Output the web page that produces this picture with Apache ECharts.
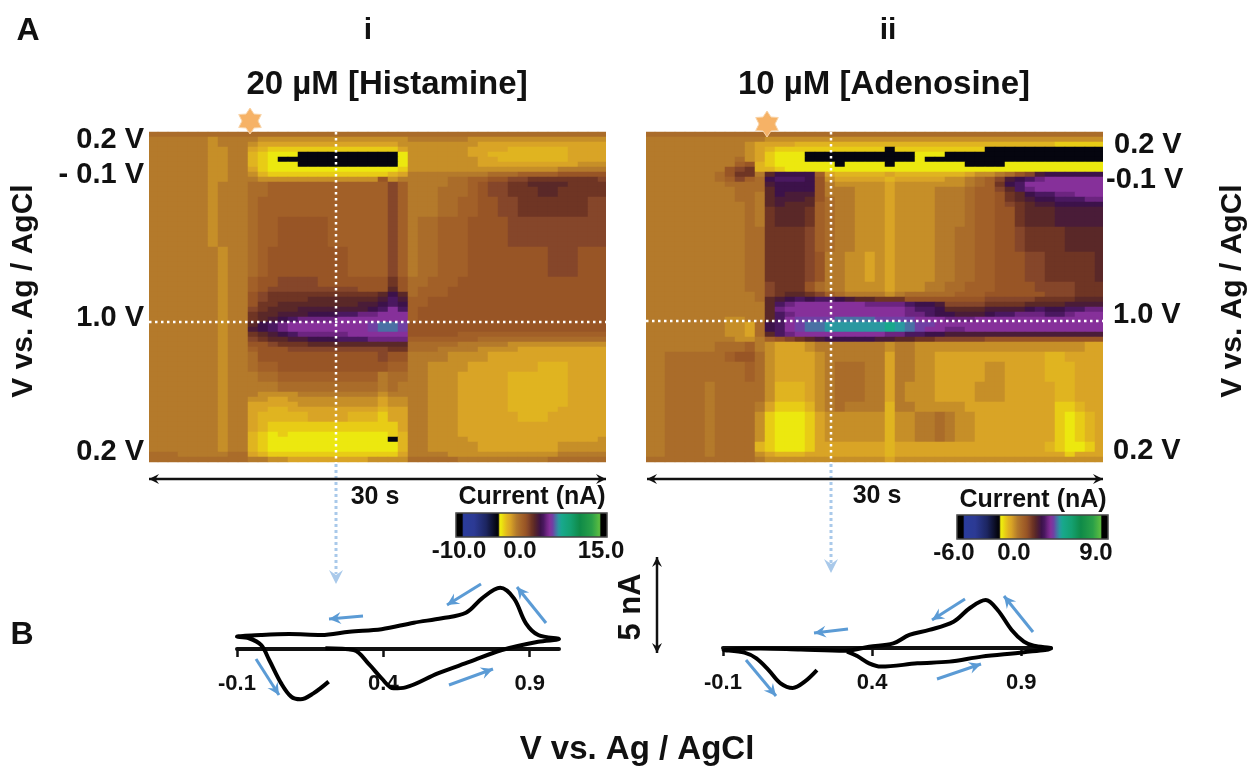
<!DOCTYPE html>
<html><head><meta charset="utf-8">
<style>html,body{margin:0;padding:0;background:#fff}#c{width:1249px;height:770px}</style>
<script src="https://cdn.jsdelivr.net/npm/echarts@6/dist/echarts.min.js"></script>
</head><body><div id="c"></div>
<script>
// Level codes; each code stands for one current value.
const levelCodes = "#yxwvutsrqponmlkjihgfed";
const levelsHistamine = [-3.25,-2.5,-2,-1.5,-1,-0.5,0,0.5,1,1.5,2,2.5,3,3.5,4,4.5,5,5.5,6,6.5,7,7.5,8];
const levelsAdenosine = [-1.95,-1.5,-1.2,-0.9,-0.6,-0.3,0,0.3,0.6,0.9,1.2,1.5,1.8,2.1,2.4,2.7,3,3.3,3.6,3.9,4.2,4.5,4.8];

// [row repeat, cell levels left to right], top row first (46 columns, 66 rows)
const rowsHistamine = [
[1,"ssssssssss ssssssssssssssss ssssssssssssssssssss"],
[1,"ttttttuttt tuuuuuuuuuuuuuuu ttttttuuuuuuuuuuuuuu"],
[1,"ttttttuttt uvvvvvvvvvvvvvvu uuuuuuuvvvvvvvvvvvvv"],
[1,"ttttttuutt vwxxxxxxxxxxxxxv uuuuuuvvvvwwwwwwvvvv"],
[1,"ttttttuutt wxyyy##########y uuuuuuvvwwwwwwwwvvvv"],
[1,"ttttttuutt wxy############y uuuuuuuvvwwwwwwwvvvv"],
[1,"ttttttuutt wxyyy##########y uuuuuuuvvvvvvvvvvuuu"],
[1,"ttttttuutt vxyyyyyyyyyyyyyx uuuuuuuuuuuuuuuttttt"],
[1,"ttttttuutt uwxxxxxxxxxxxxwv ttttttttsssrrrrqqqqq"],
[1,"ttttttuutt tuuuuuuuuuuuuqut ttttssrrqqppooooooop"],
[1,"ttttttuttt ssrrrrrrrrrrrrpr ttttssrqppoonnnnoooo"],
[2,"ttttttuttt ssrrrrrrrrrrrrpr tttsssrqppooonnooooo"],
[4,"ttttttuttt srrrrrrrrrrrrrpr tttssrrqqppooooooopp"],
[6,"ttttttuttt srrqqqqqrrrrrrpr tssrrrqqqqpppppppppp"],
[6,"tttttttutt srqqqqqqqqrrrrpr tssrrrqqqqqqqqpppqqq"],
[2,"tttttttutt rqqppppqqqqqqqoq ssrrrqqqqqqqqqqqqqqq"],
[1,"tttttttutt rqpppppppppqqqnq srrrqqqqqqqqqqqqqqqq"],
[1,"tttttttutt qpooooooooooonln srrrqqqqqqqqqqqqqqqq"],
[1,"tttttttutt qpoooonnnnnnnmkm rrqqqqqqqqqqqqqqqqqq"],
[1,"tttttttutt qoonnnnnnnnmmlkl rrqqqqqqqqqqqqqqqqqq"],
[1,"tttttttutt ponnnmmmmmmmlkik rqqqqqqqqqqqqqqqqqqq"],
[1,"tttttttutt onnmmmlllkkjjiii rqqqqqqqqqqqqqqqqqqq"],
[1,"tttttttutt onmlkjjjjiiiiiii rqqqqqqqqqqqqqqqqqqq"],
[1,"tttttttutt nlkjiiiiiiiihggh qqqqqqqqqqqqqqqqqqqq"],
[1,"tttttttutt mlkjiiiiiiiihggh qqqqqqqqqqqqqqqqqqqq"],
[1,"tttttttutt onmlkjjjjjiiiiii qqqqqrrrrrrrrrrrrrrr"],
[1,"tttttttutt ponnmmlllkkkjjjj rrrrrrrsssssssssssss"],
[1,"tttttttutt qqpooonnnnnnnnnn ssssstttttuuuuuuuuuu"],
[1,"tttttttutt rqqqppppppppppoo sssttttuuuuvvvvvvvvv"],
[2,"tttttttutt sqqqqqqqqqqqqpqq ttttuuuuvvvvvvvvvvvv"],
[2,"tttttttutt srrqqqqqqqqqqqrr ttuuuuvvvvvvvwwwvvvv"],
[2,"tttttttutt tssrrrrrrrrrrtss ttuuuvvvvvwwwwwwvvvv"],
[2,"tttttttutt tttsssssssssstst ttuuuvvvvvwwwwwwvvvv"],
[1,"tttttttutt tuuuuttttttttutt ttuuuvvvvvwwwwwwvvvv"],
[1,"tttttttutt uuvvuuuuuuuuuvuu ttuuuvvvvvwwwwwwvvvv"],
[1,"tttttttutt vvvvvuuuuuuuuvuu ttuuuvvvvvwwwwwwvvvv"],
[1,"tttttttutt vvwwvvvvvvvvvwvv ttuuuvvvvvwwwwwvvvvv"],
[2,"tttttttutt vwwwwwvvvvwwwxvv ttuuuvvvvvvwwwvvvvvv"],
[2,"tttttttutt vwxxxxxxxxxxxxxv ttuuuvvvvvvvvvvvvvvv"],
[1,"tttttttutt wxyxyyyyyyyyyyxw ttuuuvvvvvvvvvvvvvvv"],
[1,"tttttttutt wxyyyyyyyyyyyy#w ttuuuuvvvvvvvvvvvvvu"],
[2,"tttttttutt wxyyyyyyyyyyyyyw ttuuuuuvvvvvvvvuuuuu"],
[1,"ssstttttss vwxxxxxxxxxxxxxv ttttuuuuuuuuuuuttttt"],
[1,"ssssssssss ttuuvvvvvvvvuuuu ssssstttttttttssssss"]
];
const rowsAdenosine = [
[1,"ssssssssss ssssssssss ssssssssss ssssssssss ssssss"],
[1,"tttttttttt ttuuuuuuuu uuuuuuuuuu uuuuuuuuuu uuuuuu"],
[1,"tttttttttt uvvvvwwwww wwwwwwwwww wwwwwwwwww wxxxxx"],
[1,"tttttttttt uvwxxxxxxx xxxx#xxxxx xxxx###### ######"],
[1,"tttttttttt uvxyyy#### #######yyy ########## ######"],
[1,"ttttttttts uvxyyy#### #######y## ########## ######"],
[1,"tttttttttr qwxyyyyyy# yyyy#yyyyy yy####yyyy yyyyyy"],
[1,"ttttttttqp owwxyyyyyy yyyyyyyyyy yyyyyyyyyy yyyyyy"],
[1,"tttttttsqo otnllllrvw wwwwvwwwww wwvuutsqpm llllll"],
[1,"tttttttsrp rslkkklquv vvvvwvvvvv uutsrpmlkj iiiiii"],
[1,"ttttttttss ssmllllqtu uuuuvuuuuu uutsrolkii iiiiii"],
[1,"ttttttttts ssnllllqtt tuuuvuuuut ttsrrpnkji iiiiii"],
[1,"ttttttttts stnlmmmqtt tuuuvuuuut ttsrrqonlk kjjiii"],
[1,"ttttttttts stnmmmnqst tuuuvuuuut ttsrrqonml lkkkjj"],
[1,"tttttttttt stnmnnnrst tuuuvuuuut ttsrrqponm mlllll"],
[4,"tttttttttt stonnnorst tuuuvuuuut ttsrrqqonn nmmmmm"],
[5,"tttttttttt ssooooprst tuuuvuuuut tssrrqqpoo oonnnn"],
[6,"tttttttttt ssoooopqtt uuvuvuuuut tssrrqqqpp ooooon"],
[2,"tttttttttt sspoooqstt uuuuvuuutt ssrrrqqqqp pppooo"],
[1,"tttttttttt tsponnoprs ttttutssss srrrqqqqqq pppooo"],
[1,"tttttttttt tsnmlklkkl mnnoooqqqq qqqqpppppo ooonnn"],
[1,"tttttttttt ttnkjiiiii iijjjjkllm ppppoooonn nnmmmm"],
[1,"tttttttttt ttnjiiiiii iiiiiijkkl nnnnmmmmlk llkkjj"],
[1,"tttttttttt ttnkjiiiii iiiiiijjkl lmmmlkkjjj kkjiii"],
[1,"ttttttttuu ttnkihhhhg ggghhhhiii jjjiiiiiii iiiiii"],
[1,"ttttttttuu vslkihggff ffffefghhi iiiiiiiiii iiiiii"],
[1,"ttttttttuu vslkihggff ffffefghii jjiiiiiiii iiiiii"],
[1,"ttttttttuu vsnkjiiiii iiiijjkkll mmmmmmmmmm mmmmmm"],
[1,"tttttttttu utrqponmll lllmmnnoop ppppqqqqqq qqqqqq"],
[2,"tttttttsss rtuvvvuttt ttttuttuuu uuuuuuuuuu uuuuvv"],
[2,"ttssssssrq qsuvvvvutt ttttvttuuv vvvvvvvvvv wwvvvv"],
[4,"ttssssssss rsuvvvvuts ssttvttuuv vvvvuuvvvv wwwvvv"],
[4,"ttsssstsss ssuwwwvuts ssttvtuuuv vvvuuuvvvv vwwvvv"],
[2,"ttsssstsss stvxxxwuts ttttwttuuu uuvvvvvvvv vxxwvv"],
[6,"ttsssstsss suxyyyxvuu uuuuwuutts tuuvvvvvvv vxyxwv"],
[2,"ttsssstsss swxyyyxvvv vvvvwvvvvv vvvvvvvvvv wxyyxv"],
[1,"ttsssstsss suvwwwvvvv vvvvwvvvvv vvvvvvvvvv vvxvvv"],
[1,"ssssssssss stuuuuuuuu uuuuvuuuuu uuuuuuuuuu uuuuuu"]
];

// Cyclic voltammograms: potential (V), current (nA)
const cvHistamineV = [0.213,0.161,0.117,0.085,0.051,0.010,-0.018,-0.059,-0.10,-0.018,0.078,0.188,0.284,0.394,0.504,0.600,0.682,0.737,0.799,0.846,0.887,0.929,1.0,0.929,0.805,0.696,0.586,0.476,0.435,0.394,0.353,0.298,0.202];
const cvHistamineI = [-1.70,-2.31,-2.62,-2.48,-1.79,-0.57,0.21,0.56,0.64,0.73,0.78,0.73,0.90,1.03,1.37,1.60,1.89,2.64,3.19,2.64,1.34,0.73,0.52,0.38,-0.05,-0.66,-1.27,-2.0,-2.05,-1.53,-0.83,-0.05,0.04];
const cvAdenosineV = [0.215,0.174,0.134,0.093,0.053,0.012,-0.028,-0.098,0.026,0.161,0.309,0.39,0.471,0.525,0.592,0.673,0.727,0.781,0.821,0.868,0.909,0.942,1.0,0.909,0.767,0.659,0.552,0.43,0.39,0.35,0.316];
const cvAdenosineI = [-1.15,-1.75,-2.08,-1.84,-1.15,-0.54,-0.24,-0.10,-0.02,-0.08,-0.14,0.07,0.24,0.68,0.94,1.37,2.07,2.50,1.98,0.94,0.33,0.12,-0.02,-0.22,-0.45,-0.71,-0.80,-0.97,-0.80,-0.42,-0.19];
const cvTicks = [-0.1,0.4,0.9];

const FONT = '"Liberation Sans", Arial, sans-serif';
const INK = '#111';
const colourStops = [[0,'#000000'],[0.045,'#000000'],[0.05,'#2a3c9c'],[0.12,'#2c3a94'],[0.2,'#1c2560'],[0.27,'#05050f'],[0.285,'#05050f'],[0.29,'#f2ec10'],[0.30,'#ece80f'],[0.32,'#e8cc16'],[0.34,'#e0b420'],[0.36,'#d9a426'],[0.38,'#c68f28'],[0.40,'#b47a2b'],[0.42,'#aa6c2a'],[0.44,'#a26028'],[0.46,'#985526'],[0.48,'#85462a'],[0.50,'#6f3524'],[0.52,'#5a2828'],[0.54,'#4a1c38'],[0.56,'#3c124a'],[0.58,'#4a1860'],[0.60,'#6c2480'],[0.62,'#86309a'],[0.64,'#7040a4'],[0.66,'#4a70a4'],[0.68,'#2a98a0'],[0.70,'#18a88c'],[0.76,'#14a070'],[0.82,'#0f8a48'],[0.90,'#2aa048'],[0.955,'#60bf40'],[0.96,'#000000'],[1,'#000000']];
function hex(c){return [1,3,5].map(i=>parseInt(c.substr(i,2),16));}
function ramp(){const out=[];for(let k=0;k<=200;k++){const p=k/200;let j=0;while(j<colourStops.length-2&&colourStops[j+1][0]<p)j++;
  const [a,ca]=colourStops[j],[b,cb]=colourStops[j+1],t=Math.min(1,Math.max(0,(p-a)/(b-a)));const A=hex(ca),B=hex(cb);
  out.push('rgb('+A.map((v,i)=>Math.round(v+(B[i]-v)*t)).join(',')+')');}return out;}
const colours = ramp();

function cells(rows,levels){const expanded=[];rows.forEach(([n,s])=>{for(let i=0;i<n;i++)expanded.push(s.replace(/ /g,''));});
  const out=[];expanded.forEach((s,r)=>{for(let c=0;c<46;c++){const ch=s[Math.min(c,s.length-1)];out.push([c,r,levels[levelCodes.indexOf(ch)]]);}});return out;}
const nCols=Array.from({length:46},(_,i)=>i), nRows=Array.from({length:66},(_,i)=>i);

function txt(text,x,y,size,align,rot){return {type:'text',x,y,rotation:rot||0,z:20,silent:true,style:{text,font:'bold '+size+'px '+FONT,fill:INK,align:align||'center',verticalAlign:'middle'}};}
function seg(x1,y1,x2,y2,stroke,lw,dash){return {type:'line',z:15,silent:true,shape:{x1,y1,x2,y2},style:{stroke,lineWidth:lw,lineDash:dash||null}};}
function head(x1,y1,x2,y2,fill,len,wid){const a=Math.atan2(y2-y1,x2-x1),c=Math.cos(a),s=Math.sin(a);
  return {type:'polygon',z:16,silent:true,shape:{points:[[x2,y2],[x2-len*c-wid*s,y2-len*s+wid*c],[x2-len*0.65*c,y2-len*0.65*s],[x2-len*c+wid*s,y2-len*s-wid*c]]},style:{fill}};}
function arrow(x1,y1,x2,y2,col,lw,len,wid){return [seg(x1,y1,x2,y2,col,lw),head(x1,y1,x2,y2,col,len,wid)];}
function dbl(x1,y1,x2,y2,lw,len,wid){return [seg(x1,y1,x2,y2,'#111',lw),head(x1,y1,x2,y2,'#111',len,wid),head(x2,y2,x1,y1,'#111',len,wid)];}
function star(cx,cy,R,r){const pts=[];for(let i=0;i<12;i++){const a=-Math.PI/2+i*Math.PI/6,q=i%2?r:R;pts.push([cx+q*Math.cos(a),cy+q*Math.sin(a)]);}
  return {type:'polygon',z:18,silent:true,shape:{points:pts},style:{fill:'#f6b266',stroke:'#f9d3a6',lineWidth:1}};}
function mask(x,w){return {type:'rect',z:10,silent:true,shape:{x,y:130,width:w,height:335},style:{fill:'#fff'}};}

const BLUE='#5b9bd5', PALE='#a9c9ea';
const graphics=[
 mask(146,3), mask(606,3), mask(643,3), mask(1103,3),
 txt('A',28,31,32), txt('i',368,31,30), txt('ii',888,31,30),
 txt('20 µM [Histamine]',387,85,33), txt('10 µM [Adenosine]',884,85,33),
 txt('0.2 V',144,140,29,'right'), txt('- 0.1 V',144,175,29,'right'), txt('1.0 V',144,318,29,'right'), txt('0.2 V',144,452,29,'right'),
 txt('0.2 V',1114,145,29,'left'), txt('-0.1 V',1106,180,29,'left'), txt('1.0 V',1113,315,29,'left'), txt('0.2 V',1113,451,29,'left'),
 txt('V vs. Ag / AgCl',24,291,30,'center',Math.PI/2), txt('V vs. Ag / AgCl',1233,291,30,'center',Math.PI/2),
 txt('30 s',375,497,25), txt('30 s',877,496,25),
 txt('Current (nA)',532,497,25), txt('Current (nA)',1033,500,25),
 txt('-10.0',459,551,24), txt('0.0',520,551,24), txt('15.0',601,551,24),
 txt('-6.0',954,553,24), txt('0.0',1014,553,24), txt('9.0',1096,553,24),
 txt('B',22,635,32), txt('5 nA',631,607,31,'center',Math.PI/2),
 txt('V vs. Ag / AgCl',637,750,33),
 star(250,121,13,8), star(767,124,13,8),
 seg(149,322,606,322,'#fff',2.5,[2.5,3.5]), seg(336,132,336,463,'#fff',2.5,[2.5,3.5]),
 seg(646,321,1103,321,'#fff',2.5,[2.5,3.5]), seg(831,132,831,463,'#fff',2.5,[2.5,3.5]),
 seg(336,464,336,574,PALE,3,[3,3]), head(336,560,336,584,PALE,14,7),
 seg(831,464,831,563,PALE,3,[3,3]), head(831,550,831,573,PALE,14,7),
 {type:'rect',z:17,silent:true,shape:{x:456,y:513,width:151,height:24},style:{fill:'none',stroke:'#444',lineWidth:1.5}},
 {type:'rect',z:17,silent:true,shape:{x:957,y:515,width:151,height:24},style:{fill:'none',stroke:'#444',lineWidth:1.5}},
 ...dbl(149,479,606,479,2.5,10,5), ...dbl(647,479,1103,479,2.5,10,5), ...dbl(657,557,657,653,2.5,10,5),
 ...arrow(481,584,447,605,BLUE,3,12,6), ...arrow(546,623,517,587,BLUE,3,12,6), ...arrow(363,616,329,619,BLUE,3,12,6),
 ...arrow(256,659,279,695,BLUE,3,12,6), ...arrow(449,685,493,669,BLUE,3,12,6),
 ...arrow(965,599,932,620,BLUE,3,12,6), ...arrow(1033,632,1004,596,BLUE,3,12,6), ...arrow(848,629,814,633,BLUE,3,12,6),
 ...arrow(746,660,776,696,BLUE,3,12,6), ...arrow(937,679,981,664,BLUE,3,12,6)
];

function pairs(xs,ys){return xs.map((x,i)=>[x,ys[i]]);}
function cvAxis(gridIndex){return {type:'value',gridIndex,min:-0.1,max:1.0,
  axisLine:{show:true,onZero:true,lineStyle:{color:'#111',width:4}},
  axisTick:{show:true,length:8,customValues:cvTicks,lineStyle:{color:'#111',width:2.5}},
  axisLabel:{show:true,margin:-34,customValues:cvTicks,formatter:v=>String(v),color:INK,fontFamily:FONT,fontWeight:'bold',fontSize:22,hideOverlap:false},
  splitLine:{show:false}};}
function hiddenCat(gridIndex,data,inverse){return {type:'category',gridIndex,data,show:false,inverse:!!inverse};}
function cvY(gridIndex){return {type:'value',gridIndex,min:-3,max:4,show:false,splitLine:{show:false}};}
function vm(seriesIndex,min,max,left,top){return {type:'continuous',seriesIndex,min,max,dimension:2,show:true,orient:'horizontal',left,top,itemWidth:24,itemHeight:151,padding:0,text:null,showLabel:false,calculable:false,hoverLink:false,realtime:false,inRange:{color:colours},outOfRange:{color:colours}};}
function heat(i,data){return {type:'heatmap',xAxisIndex:i,yAxisIndex:i,data,progressive:0,itemStyle:{borderWidth:0},emphasis:{disabled:true},silent:true};}
function cv(i,data){return {type:'line',xAxisIndex:i,yAxisIndex:i,data,smooth:0.35,showSymbol:false,lineStyle:{color:'#000',width:4},emphasis:{disabled:true},silent:true,z:5};}

const chart=echarts.init(document.getElementById('c'),null,{renderer:'canvas'});
chart.setOption({
 animation:false,backgroundColor:'#fff',
 grid:[
  {left:148,top:132,width:460,height:330},
  {left:645,top:132,width:460,height:330},
  {left:237,top:572.2,width:322,height:134.4},
  {left:723,top:571.2,width:328,height:134.4}
 ],
 xAxis:[hiddenCat(0,nCols),hiddenCat(1,nCols),cvAxis(2),cvAxis(3)],
 yAxis:[hiddenCat(0,nRows,true),hiddenCat(1,nRows,true),cvY(2),cvY(3)],
 visualMap:[vm(0,-10,15,456,513),vm(1,-6,9,957,515)],
 series:[heat(0,cells(rowsHistamine,levelsHistamine)),heat(1,cells(rowsAdenosine,levelsAdenosine)),cv(2,pairs(cvHistamineV,cvHistamineI)),cv(3,pairs(cvAdenosineV,cvAdenosineI))],
 graphic:{elements:graphics}
});
</script></body></html>
